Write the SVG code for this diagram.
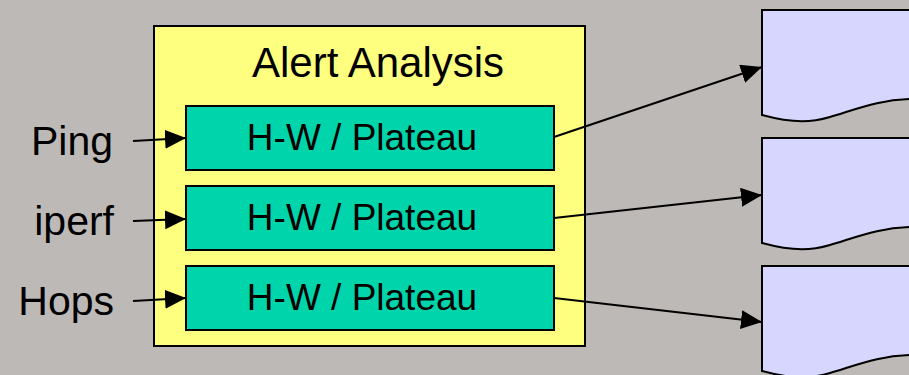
<svg xmlns="http://www.w3.org/2000/svg" width="909" height="375" viewBox="0 0 909 375">
<defs>
<style>
.t{font-family:"Liberation Sans",Arial,sans-serif;fill:#000}
.box{fill:#00d4aa;stroke:#000;stroke-width:2}
.doc{fill:#d6d6fe;stroke:#000;stroke-width:2}
.ln{stroke:#000;stroke-width:2;fill:none;marker-end:url(#ah)}
</style>
<marker id="ah" markerUnits="userSpaceOnUse" markerWidth="22" markerHeight="20" refX="21" refY="9.5" orient="auto" viewBox="0 0 22 20">
<path d="M0,0 L21,9.5 L0,19 Z" fill="#000"/>
</marker>
</defs>
<rect x="0" y="0" width="909" height="375" fill="#bdb9b7"/>
<g id="alert-analysis">
<rect x="154" y="26" width="431" height="320" fill="#ffff7f" stroke="#000" stroke-width="2"/>
<text class="t" x="378" y="77" font-size="42" text-anchor="middle">Alert Analysis</text>
</g>
<g id="hw1"><rect class="box" x="186" y="106" width="368" height="64"/><text class="t" x="362" y="150" font-size="37" text-anchor="middle">H-W / Plateau</text></g>
<g id="hw2"><rect class="box" x="186" y="186" width="368" height="64"/><text class="t" x="362" y="230" font-size="37" text-anchor="middle">H-W / Plateau</text></g>
<g id="hw3"><rect class="box" x="186" y="266" width="368" height="64"/><text class="t" x="362" y="310" font-size="37" text-anchor="middle">H-W / Plateau</text></g>
<g id="ping"><text class="t" x="113" y="155" font-size="41" text-anchor="end">Ping</text></g>
<g id="iperf"><text class="t" x="114" y="235" font-size="41" text-anchor="end">iperf</text></g>
<g id="hops"><text class="t" x="114" y="315" font-size="41" text-anchor="end">Hops</text></g>
<g id="doc1"><path class="doc" d="M762,10 H915 V99 C878,99 852,111 830,117 C813,122 795,124 762,115 Z"/></g>
<g id="doc2"><path class="doc" d="M762,138 H915 V227 C878,227 852,239 830,245 C813,250 795,252 762,243 Z"/></g>
<g id="doc3"><path class="doc" d="M762,266 H915 V355 C878,355 852,367 830,373 C813,378 795,380 762,371 Z"/></g>
<g id="connectors">
<line class="ln" x1="133" y1="141" x2="186" y2="138"/>
<line class="ln" x1="133" y1="221" x2="186" y2="219"/>
<line class="ln" x1="133" y1="301" x2="186" y2="298"/>
<line class="ln" x1="554" y1="137" x2="762" y2="67"/>
<line class="ln" x1="554" y1="218" x2="762" y2="195"/>
<line class="ln" x1="554" y1="298" x2="762" y2="322"/>
</g>
</svg>
